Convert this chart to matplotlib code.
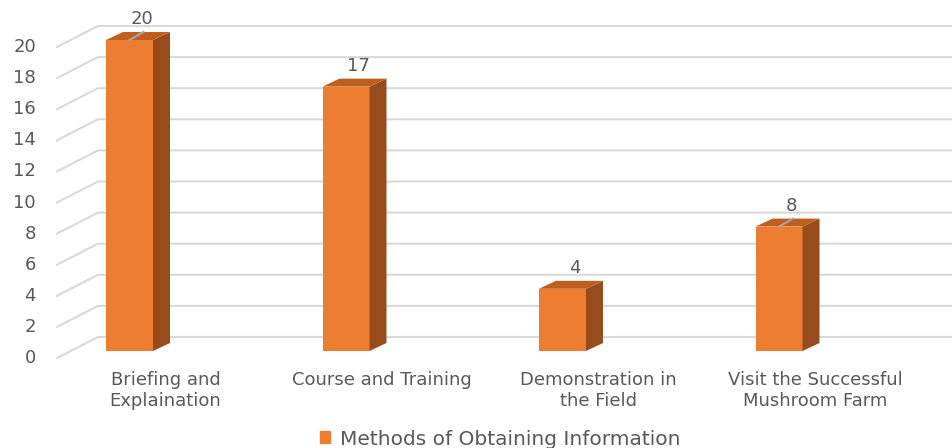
import matplotlib.pyplot as plt
from matplotlib.patches import Polygon, Patch

# chart data
categories = ['Briefing and\nExplaination', 'Course and Training',
              'Demonstration in\nthe Field', 'Visit the Successful\nMushroom Farm']
values = [20, 17, 4, 8]
series_name = 'Methods of Obtaining Information'
yticks = list(range(0, 21, 2))

front_col = '#ED7D31'
top_col = '#BE5E1F'
side_col = '#984C1B'
grid_col = '#D9D9D9'
text_col = '#595959'

plt.rcParams['font.family'] = ['DejaVu Sans']

fig = plt.figure(figsize=(9.52, 4.48), dpi=100)
# pixel geometry: category step 216.5 px, 15.55 px per unit
px_x = 216.5
px_y = 15.55
ax = fig.add_axes([21.25 / 952, 97 / 448, 866 / 952, 311 / 448])
ax.set_xlim(-0.5, 3.5)
ax.set_ylim(0, 20)
ax.axis('off')

fs = 13
w = 47 / px_x
ddx = 17 / px_x   # depth of bars
ddy = 8 / px_y

# back wall grid with slanted floor part
wall_dy = 14 / px_y
floor_dy = -7 / px_y
x_front = (57 - 21.25) / px_x - 0.5
x_back = (98 - 21.25) / px_x - 0.5
x_end = (952 - 21.25) / px_x - 0.5
for t in yticks:
    ax.plot([x_front, x_back, x_end], [t + floor_dy, t + wall_dy, t + wall_dy],
            color=grid_col, lw=1.5, clip_on=False, zorder=1)
    ax.text((36 - 21.25) / px_x - 0.5, t + floor_dy, str(t), ha='right', va='center',
            fontsize=fs, color=text_col)

xs = list(range(len(values)))
bars = ax.bar(xs, values, width=w, color=front_col, zorder=3)
for b in bars:
    b.set_clip_on(False)
for i, v in enumerate(values):
    r = i + w / 2
    l = i - w / 2
    ax.add_patch(Polygon([(r, 0), (r + ddx, ddy), (r + ddx, v + ddy), (r, v)],
                         closed=True, color=side_col, lw=0, zorder=3, clip_on=False))
    ax.add_patch(Polygon([(l, v), (r, v), (r + ddx, v + ddy), (l + ddx, v + ddy)],
                         closed=True, color=top_col, lw=0, zorder=3, clip_on=False))
    ax.text(i + 12 / px_x, v + ddy + 13 / px_y, str(v), ha='center', va='center',
            fontsize=fs, color=text_col, zorder=4)
    if i in (0, 3):
        ax.plot([i, i + 14 / px_x], [v, v + ddy], color='#A6A6A6', lw=1.5, zorder=4,
                clip_on=False)
    ax.text(i + 36 / px_x, -20 / px_y, categories[i], ha='center', va='top', fontsize=fs,
            color=text_col, linespacing=1.22, clip_on=False)

fig.legend(handles=[Patch(color=front_col)], labels=[series_name], loc='center',
           bbox_to_anchor=(500 / 952, 9 / 448), frameon=False, handlelength=0.52,
           handleheight=0.52, handletextpad=0.45, fontsize=14.5, labelcolor=text_col)

fig.savefig('out.png', dpi=100)
